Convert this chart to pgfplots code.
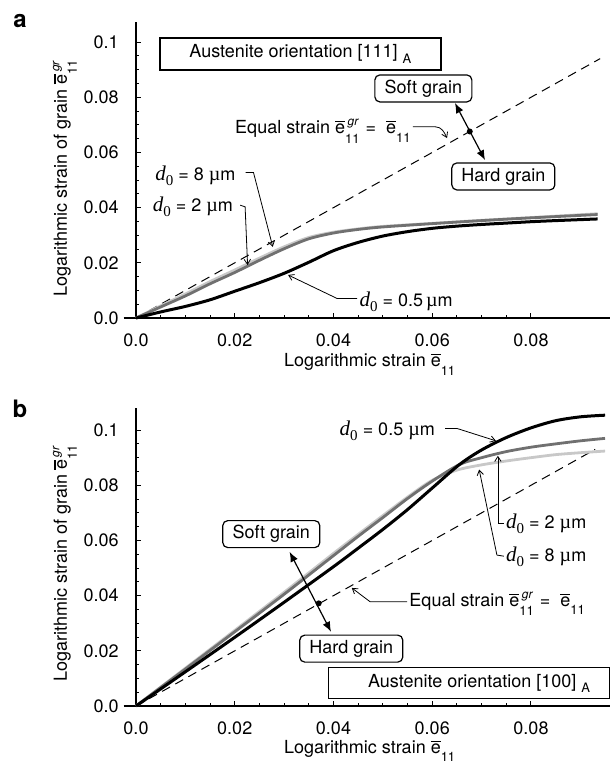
\documentclass[border=0pt]{standalone}
\usepackage{fontspec}
\setmainfont{TeX Gyre Heros}
\newfontfamily\serif{Liberation Serif}
\usepackage{amsmath}
\usepackage{pgfplots}
\usepackage{pgfplotstable}
\pgfplotsset{compat=1.18}
\usetikzlibrary{arrows.meta}
\definecolor{dgray}{RGB}{112,112,112}
\definecolor{lgray}{RGB}{200,200,200}

\newcommand{\dz}{{\fontsize{10.5}{12}\selectfont\serif\itshape d}\raisebox{-0.55ex}{\fontsize{7.5}{9}\selectfont\serif 0}}
\newcommand{\um}{{\serif\fontsize{10}{12}\selectfont µ}m}
\newcommand{\eb}{\vbox{\hrule height 0.6pt\kern0.8pt\hbox{e}}}
\newcommand{\sub}{\raisebox{-0.7ex}{\fontsize{6.5}{8}\selectfont 11}}
\newcommand{\egr}{$\eb^{\,\textit{gr}}_{\sub}$}
\newcommand{\eel}{$\eb_{\sub}$}

% panel a: [111] orientation
\pgfplotstableread{
x y
0 0
0.005 0.0022
0.01 0.0042
0.015 0.0066
0.02 0.0097
0.025 0.0128
0.03 0.0162
0.035 0.0202
0.04 0.0244
0.045 0.0274
0.05 0.0297
0.055 0.0313
0.06 0.0325
0.065 0.0333
0.07 0.0339
0.075 0.0344
0.08 0.0349
0.085 0.0353
0.0935 0.0359
}\aB
\pgfplotstableread{
x y
0 0
0.005 0.0040
0.01 0.0080
0.015 0.0124
0.02 0.0165
0.025 0.0209
0.03 0.0251
0.035 0.0287
0.04 0.0308
0.045 0.0321
0.05 0.0330
0.06 0.0342
0.07 0.0353
0.08 0.0363
0.0935 0.0375
}\aD
\pgfplotstableread{
x y
0 0
0.005 0.0044
0.01 0.0087
0.015 0.0132
0.02 0.0174
0.025 0.0217
0.03 0.0258
0.035 0.0292
0.04 0.0311
0.045 0.0323
0.05 0.0332
0.06 0.0343
0.07 0.0354
0.08 0.0364
0.0935 0.0378
}\aL

% panel b: [100] orientation
\pgfplotstableread{
x y
0 0
0.01 0.0124
0.02 0.0249
0.03 0.0376
0.04 0.0505
0.045 0.0572
0.05 0.0640
0.055 0.0712
0.06 0.0790
0.0655 0.0875
0.07 0.0928
0.075 0.0973
0.08 0.1008
0.085 0.1034
0.09 0.1048
0.095 0.1054
}\bB
\pgfplotstableread{
x y
0 0
0.01 0.0134
0.02 0.0269
0.03 0.0405
0.04 0.0545
0.045 0.0615
0.05 0.0683
0.055 0.0752
0.06 0.0815
0.0655 0.0875
0.07 0.0900
0.075 0.0922
0.08 0.0938
0.085 0.0950
0.09 0.0961
0.095 0.0970
}\bD
\pgfplotstableread{
x y
0 0
0.01 0.0137
0.02 0.0274
0.03 0.0412
0.04 0.0553
0.045 0.0622
0.05 0.0690
0.055 0.0757
0.06 0.0818
0.065 0.0855
0.07 0.0874
0.075 0.0888
0.08 0.0900
0.085 0.0911
0.09 0.0918
0.095 0.0924
}\bL

\pgfplotsset{panel/.style={
  scale only axis, width=237pt,
  axis lines=left, axis line style={-, line width=0.6pt},
  xmin=0, xmax=0.096, ymin=0,
  xtick={0,0.02,0.04,0.06,0.08}, xticklabels={0.0,0.02,0.04,0.06,0.08},
  ytick={0,0.02,0.04,0.06,0.08,0.1}, yticklabels={0.0,0.02,0.04,0.06,0.08,0.1},
  minor x tick num=3, minor y tick num=3,
  tick align=inside, major tick length=2.5pt, minor tick length=1.5pt,
  every tick/.style={black, line width=0.5pt},
  scaled ticks=false,
  tick label style={font=\fontsize{9}{11}\selectfont},
  yticklabel style={xshift=-5.5pt},
  xticklabel style={yshift=-4.5pt},
  clip=false, anchor=south west,
}}
\tikzset{
  conn/.style={line width=0.4pt, -{Straight Barb[length=2.5pt,width=3.2pt]}},
  dbl/.style={line width=0.6pt, {Latex[length=5pt,width=4pt]}-{Latex[length=5pt,width=4pt]}},
  grain/.style={draw, fill=white, line width=0.6pt, rounded corners=2.5pt, inner sep=0pt, minimum height=13.5pt},
  lab/.style={font=\fontsize{9}{11}\selectfont, inner sep=0pt},
}

\begin{document}
\fontsize{9}{11}\selectfont
\begin{tikzpicture}
\path[use as bounding box] (0,0) rectangle (305.5pt,-381pt);
\node[font=\fontsize{12}{14}\selectfont\bfseries] at (10pt,-10.5pt) {a};
\node[font=\fontsize{12}{14}\selectfont\bfseries] at (10pt,-204.5pt) {b};

\begin{axis}[panel, at={(68pt,-159pt)}, height=147.9pt, ymax=0.1072]
\node[lab, anchor=base] at (axis description cs:0.494,-0.1645) {Logarithmic strain \eel};
\node[lab, anchor=base, rotate=90] at (axis description cs:-0.1456,0.475) {Logarithmic strain of grain \egr};
\draw[line width=0.6pt] (-0.0025,0) -- (0,0);
\addplot[black, line width=0.5pt, dash pattern=on 4.5pt off 3pt] coordinates {(0,0) (0.094,0.094)};
\addplot[lgray, line width=1.4pt, smooth] table {\aL};
\addplot[dgray, line width=1.4pt, smooth] table {\aD};
\addplot[black, line width=1.5pt, smooth] table {\aB};

\node[draw, line width=0.6pt, minimum width=140.5pt, minimum height=16pt, inner sep=0pt, lab]
  at (0.0333,0.0957) {Austenite orientation [111]\kern2.5pt\raisebox{-0.6ex}{\fontsize{6.5}{8}\selectfont A}};

\draw[dbl] (0.0646,0.0779) -- (0.0707,0.0572);
\fill (0.0676,0.0676) circle (1.5pt);
\node[grain, minimum width=48.5pt, lab] at (0.0582,0.0832) {Soft grain};
\node[grain, minimum width=51.5pt, lab] at (0.0744,0.0513) {Hard grain};

\node[lab, anchor=base east] at (0.0559,0.0669) {Equal strain \egr\ =\ \ \eel};
\draw[conn] (0.0561,0.0693) -- (0.0606,0.0693) to[out=0,in=115] (0.0630,0.0652);

\node[lab, anchor=base east] at (0.0202,0.0500) {\dz\ = 8 \um};
\draw[conn] (0.0222,0.0527) -- (0.0238,0.0527) -- (0.0277,0.0258);
\node[lab, anchor=base east] at (0.0197,0.0385) {\dz\ = 2 \um};
\draw[conn] (0.0211,0.0409) -- (0.0221,0.0403) -- (0.0226,0.0192);
\node[lab, anchor=base west] at (0.0452,0.0041) {\dz\ = 0.5\,\um};
\draw[conn] (0.0448,0.0071) -- (0.0407,0.0071) -- (0.0308,0.0156);
\end{axis}

\begin{axis}[panel, at={(68pt,-353pt)}, height=149pt, ymax=0.108]
\node[lab, anchor=base] at (axis description cs:0.494,-0.158) {Logarithmic strain \eel};
\node[lab, anchor=base, rotate=90] at (axis description cs:-0.1456,0.48) {Logarithmic strain of grain \egr};
\draw[line width=0.6pt] (-0.0025,0) -- (0,0);
\addplot[black, line width=0.5pt, dash pattern=on 4.5pt off 3pt] coordinates {(0,0) (0.093,0.093)};
\addplot[lgray, line width=1.4pt, smooth] table {\bL};
\addplot[dgray, line width=1.4pt, smooth] table {\bD};
\addplot[black, line width=1.5pt, smooth] table {\bB};

\node[draw, fill=white, line width=0.6pt, minimum width=140.5pt, minimum height=15.5pt, inner sep=0pt]
  at (0.0675,0.0082) {};
\node[lab] at (0.0695,0.0082) {Austenite orientation [100]\kern2.5pt\raisebox{-0.6ex}{\fontsize{6.5}{8}\selectfont A}};

\draw[dbl] (0.0311,0.0559) -- (0.0395,0.0269);
\fill (0.0370,0.0372) circle (1.5pt);
\node[grain, minimum width=48.5pt, lab] at (0.0274,0.0623) {Soft grain};
\node[grain, minimum width=51.5pt, lab] at (0.0436,0.0208) {Hard grain};

\node[lab, anchor=base west] at (0.0553,0.0362) {Equal strain \egr\ =\ \ \eel};
\draw[conn] (0.0549,0.0378) -- (0.0474,0.0378) -- (0.0437,0.0428);

\node[lab, anchor=base east] at (0.0606,0.0982) {\dz\ = 0.5 \um};
\draw[conn] (0.0626,0.1006) -- (0.0650,0.1006) -- (0.0729,0.0961);
\node[lab, anchor=base west] at (0.0749,0.0644) {\dz\ = 2 \um};
\draw[conn] (0.0745,0.0663) -- (0.0733,0.0663) -- (0.0733,0.0907);
\node[lab, anchor=base west] at (0.0749,0.0523) {\dz\ = 8 \um};
\draw[conn] (0.0745,0.0543) -- (0.0731,0.0547) -- (0.0695,0.0857);
\end{axis}
\end{tikzpicture}
\end{document}
